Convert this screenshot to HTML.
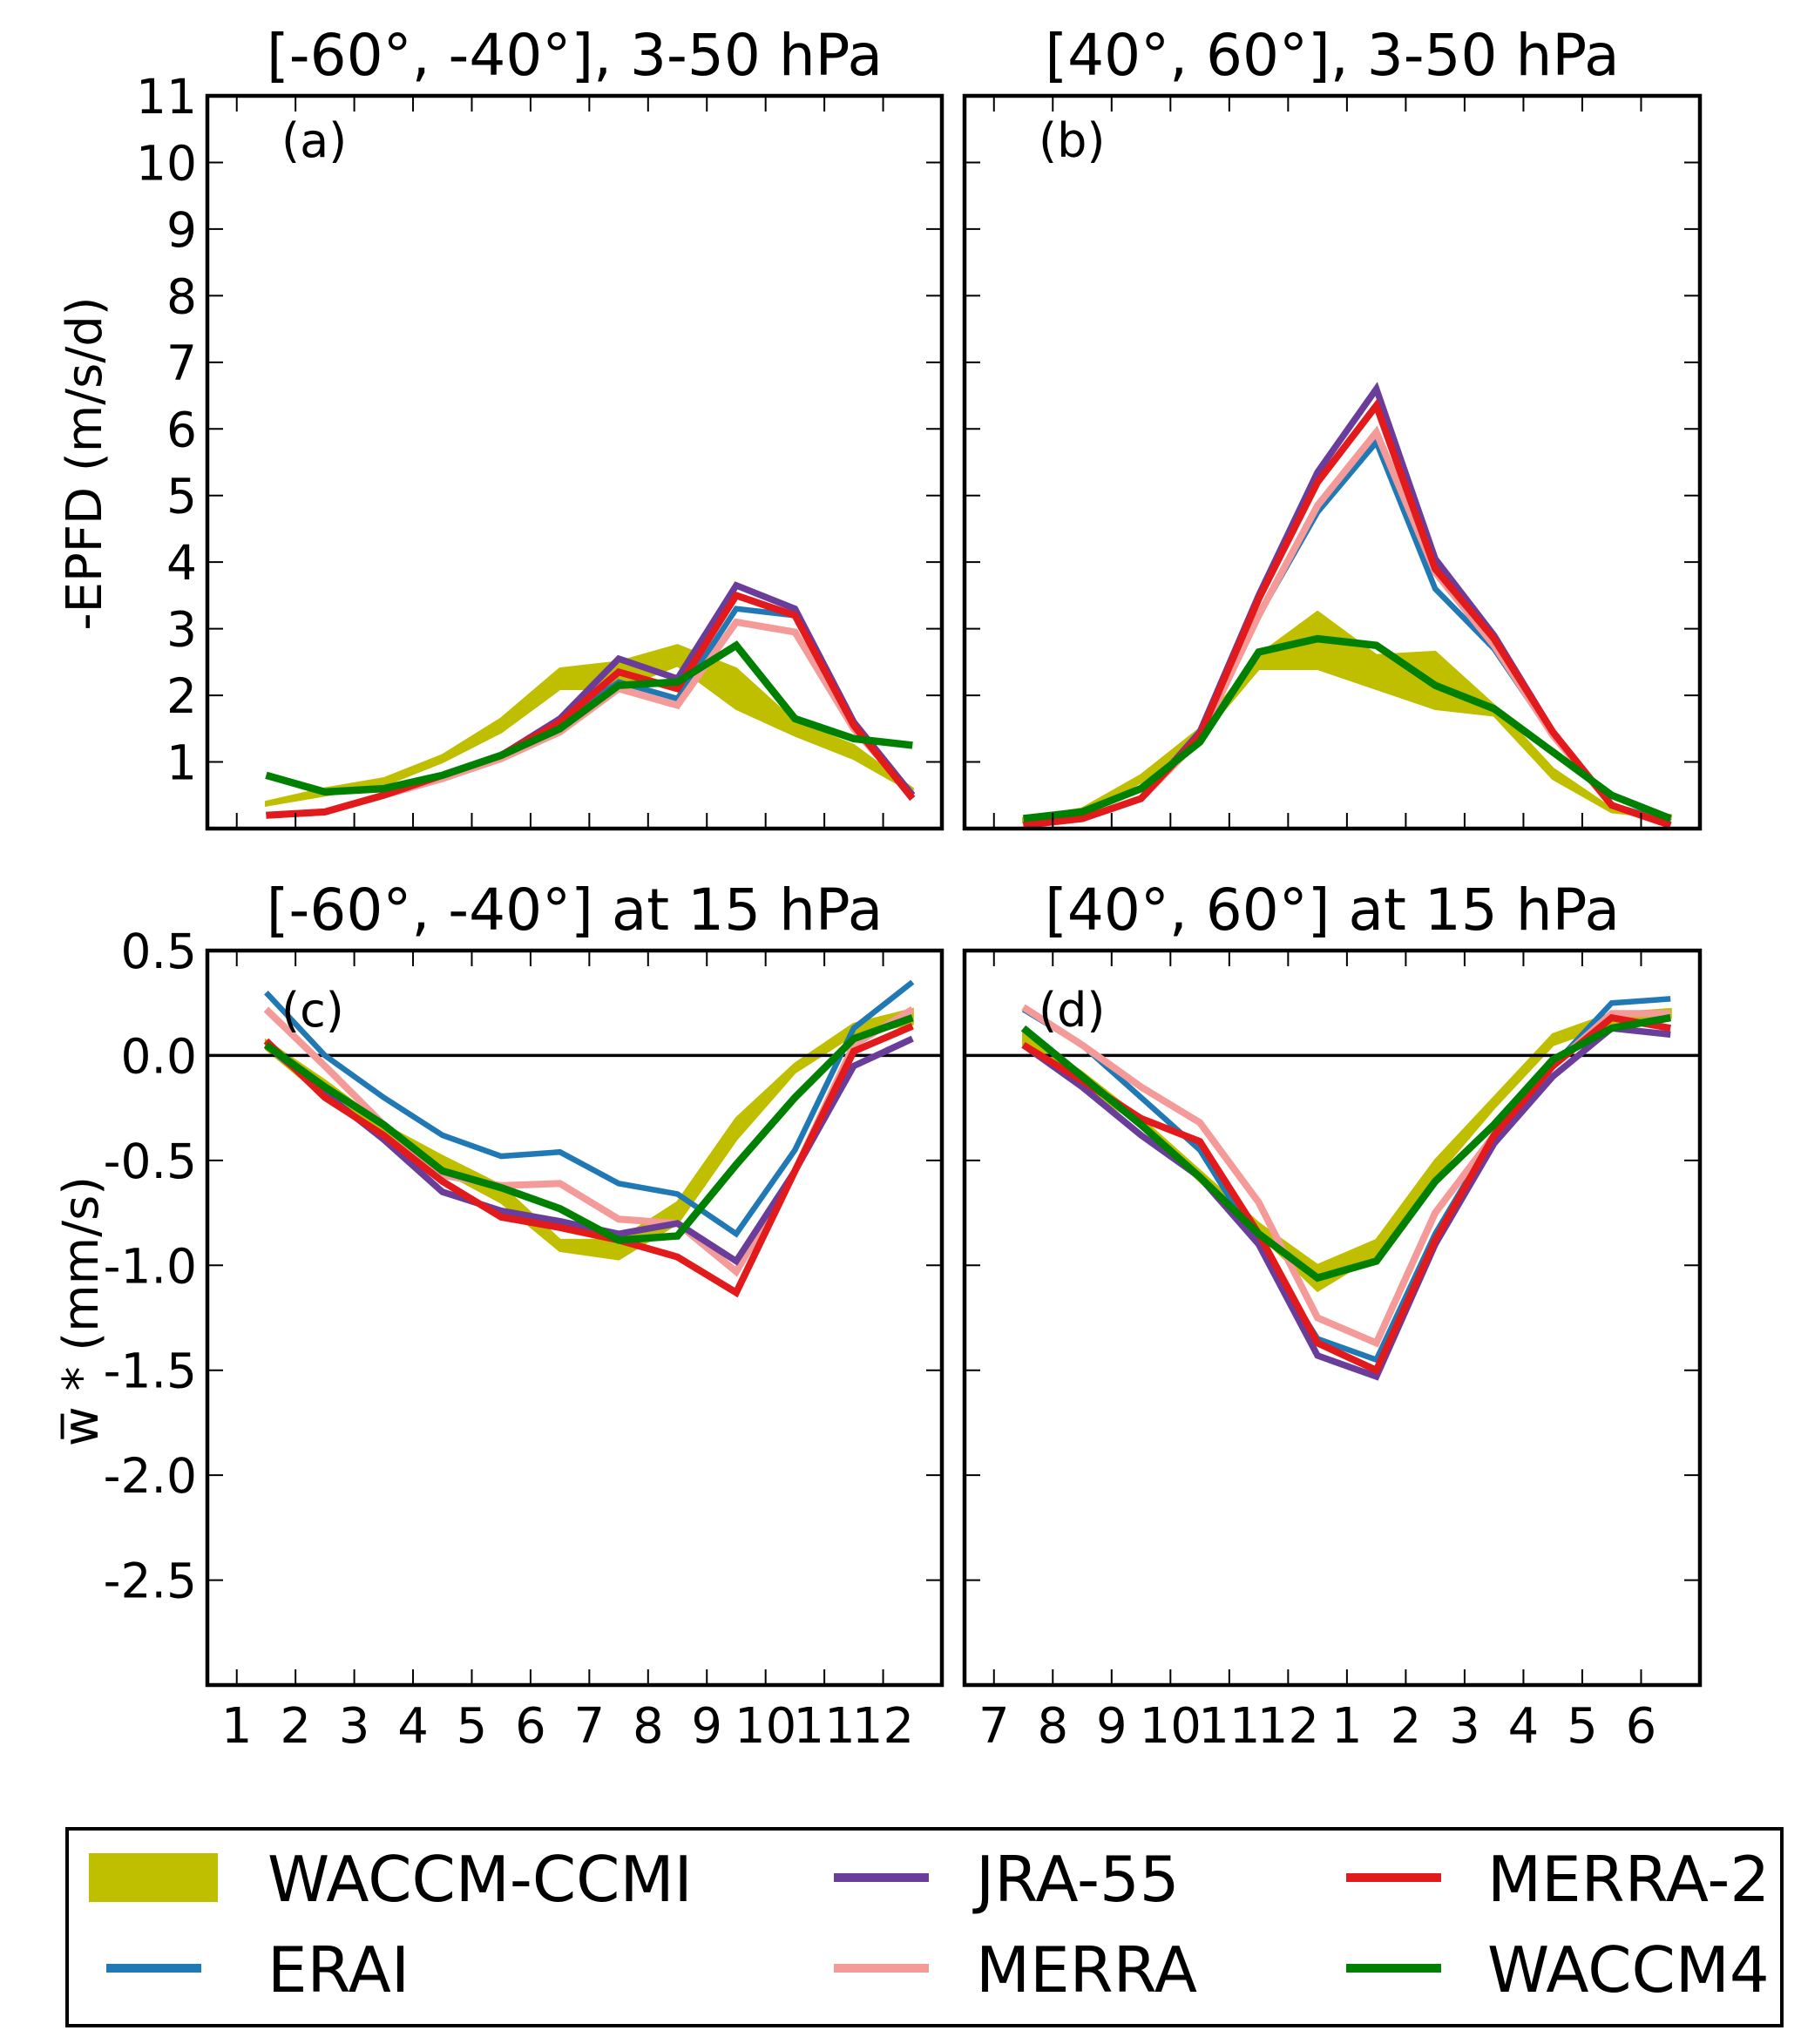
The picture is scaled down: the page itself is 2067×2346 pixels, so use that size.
<!DOCTYPE html>
<html><head><meta charset="utf-8"><style>
html,body{margin:0;padding:0;background:#fff}
svg{display:block}
text{font-family:"DejaVu Sans","Liberation Sans",sans-serif;fill:#000}
</style></head><body>
<svg id="fig" width="2067" height="2346" viewBox="0 0 2067 2346" xmlns="http://www.w3.org/2000/svg">
<g id="layer"></g>
</svg>
<script>
// ---- data ----
const monthsSH = [1,2,3,4,5,6,7,8,9,10,11,12];
const monthsNH = [7,8,9,10,11,12,1,2,3,4,5,6];
const epfdTicks = [1,2,3,4,5,6,7,8,9,10,11];
const wTicks = [0.5,0.0,-0.5,-1.0,-1.5,-2.0,-2.5];

const aERAI   = [0.2,0.25,0.5,0.75,1.1,1.6,2.2,1.95,3.3,3.2,1.6,0.5];
const aJRA    = [0.2,0.25,0.5,0.8,1.1,1.65,2.55,2.25,3.65,3.3,1.6,0.5];
const aMERRA  = [0.2,0.25,0.5,0.75,1.05,1.45,2.1,1.85,3.1,2.95,1.5,0.5];
const aMERRA2 = [0.2,0.25,0.5,0.8,1.1,1.6,2.35,2.1,3.5,3.2,1.55,0.45];
const aWACCM4 = [0.8,0.55,0.6,0.8,1.1,1.5,2.15,2.2,2.75,1.65,1.35,1.25];
const aCCMIlo = [0.35,0.5,0.65,1.0,1.45,2.1,2.1,2.45,1.8,1.4,1.05,0.55];
const aCCMIhi = [0.4,0.6,0.75,1.1,1.65,2.4,2.5,2.75,2.4,1.6,1.25,0.6];

const bERAI   = [0.05,0.15,0.45,1.4,3.2,4.75,5.8,3.6,2.7,1.4,0.35,0.1];
const bJRA    = [0.05,0.15,0.45,1.45,3.5,5.35,6.6,4.05,2.9,1.45,0.35,0.05];
const bMERRA  = [0.05,0.15,0.45,1.35,3.2,4.85,5.95,3.85,2.75,1.4,0.35,0.05];
const bMERRA2 = [0.05,0.15,0.45,1.4,3.45,5.2,6.35,3.9,2.85,1.45,0.35,0.05];
const bWACCM4 = [0.15,0.25,0.6,1.3,2.65,2.85,2.75,2.15,1.8,1.15,0.5,0.15];
const bCCMIlo = [0.1,0.2,0.7,1.35,2.4,2.4,2.1,1.8,1.7,0.75,0.25,0.15];
const bCCMIhi = [0.15,0.3,0.8,1.5,2.6,3.25,2.6,2.65,1.85,0.9,0.3,0.2];

const cERAI   = [0.3,0.0,-0.2,-0.38,-0.48,-0.46,-0.61,-0.66,-0.85,-0.45,0.13,0.35];
const cJRA    = [0.05,-0.18,-0.4,-0.65,-0.74,-0.79,-0.85,-0.8,-0.98,-0.55,-0.05,0.08];
const cMERRA  = [0.22,-0.05,-0.33,-0.57,-0.62,-0.61,-0.78,-0.8,-1.03,-0.55,0.05,0.22];
const cMERRA2 = [0.07,-0.2,-0.38,-0.6,-0.77,-0.82,-0.88,-0.96,-1.13,-0.55,0.02,0.14];
const cWACCM4 = [0.05,-0.15,-0.33,-0.55,-0.63,-0.73,-0.88,-0.86,-0.52,-0.2,0.08,0.18];
const cCCMIlo = [0.03,-0.2,-0.4,-0.55,-0.7,-0.93,-0.97,-0.8,-0.4,-0.08,0.1,0.15];
const cCCMIhi = [0.07,-0.12,-0.33,-0.48,-0.62,-0.88,-0.88,-0.7,-0.3,-0.04,0.15,0.22];

const dERAI   = [0.22,0.05,-0.2,-0.45,-0.9,-1.35,-1.45,-0.85,-0.38,-0.05,0.25,0.27];
const dJRA    = [0.05,-0.15,-0.38,-0.58,-0.9,-1.43,-1.53,-0.9,-0.42,-0.1,0.13,0.1];
const dMERRA  = [0.23,0.05,-0.15,-0.32,-0.7,-1.25,-1.37,-0.75,-0.38,-0.05,0.2,0.2];
const dMERRA2 = [0.05,-0.12,-0.3,-0.41,-0.85,-1.37,-1.5,-0.88,-0.38,-0.05,0.18,0.13];
const dWACCM4 = [0.13,-0.1,-0.33,-0.58,-0.85,-1.06,-0.98,-0.6,-0.33,-0.02,0.13,0.18];
const dCCMIlo = [0.05,-0.15,-0.33,-0.6,-0.85,-1.12,-0.95,-0.58,-0.25,0.05,0.15,0.18];
const dCCMIhi = [0.1,-0.08,-0.3,-0.55,-0.8,-1.0,-0.88,-0.5,-0.2,0.1,0.2,0.22];

const NS = "http://www.w3.org/2000/svg";
const root = document.getElementById('layer');
function mk(tag, attrs, parent, txt){
  const e = document.createElementNS(NS, tag);
  for (const k in attrs) e.setAttribute(k, attrs[k]);
  if (txt !== undefined) e.textContent = txt;
  (parent||root).appendChild(e);
  return e;
}
const COL = {ccmi:'#bfbf00', erai:'#2079b4', jra:'#6a3d9a', merra:'#f49a99', merra2:'#e31a1c', waccm:'#008000'};

function panel(key, L, R, T, B, ymin, ymax, yTicks, yFmt, labels, sets, title, tag, showY, zero){
  const g = mk('g', {});
  
  
  const xs = v => L + (v - 0.5) / 12.5 * (R - L);
  const ys = v => B - (v - ymin) / (ymax - ymin) * (B - T);
  const lo = sets.lo, hi = sets.hi;
  let pts = [];
  for (let i=0;i<12;i++) pts.push(xs(i+1.5)+','+ys(hi[i]));
  for (let i=11;i>=0;i--) pts.push(xs(i+1.5)+','+ys(lo[i]));
  const band = mk('polygon', {points: pts.join(' '), fill: COL.ccmi, stroke: COL.ccmi, 'stroke-width': 3}, g);
  
  
  if (zero){
    const z = mk('line', {x1:L, x2:R, y1:ys(0), y2:ys(0), stroke:'#000', 'stroke-width':3.5}, g);
    
    
  }
  const order = [['erai',6.5,'erai'],['merra',8,'merra'],['jra',7.5,'jra'],['merra2',8,'merra2'],['waccm',8.5,'waccm']];
  for (const [s, w, c] of order){
    const arr = sets[s];
    const p = arr.map((v,i) => xs(i+1.5)+','+ys(v)).join(' ');
    const pl = mk('polyline', {points:p, fill:'none', stroke:COL[c], 'stroke-width':w, 'stroke-linejoin':'miter'}, g);
    
    
  }
  const fr = mk('rect', {x:L, y:T, width:R-L, height:B-T, fill:'none', stroke:'#000', 'stroke-width':4.5}, g);
  
  
  for (let i=0;i<12;i++){
    const x = xs(i+1);
    mk('line', {x1:x, x2:x, y1:B, y2:B-18, stroke:'#000', 'stroke-width':2}, g);
    mk('line', {x1:x, x2:x, y1:T, y2:T+18, stroke:'#000', 'stroke-width':2}, g);
    if (labels){
      const t = mk('text', {x:x, y:B+66, 'font-size':56, 'text-anchor':'middle'}, g, labels[i]);
      
      
    }
  }
  for (const v of yTicks){
    const y = ys(v);
    mk('line', {x1:L, x2:L+18, y1:y, y2:y, stroke:'#000', 'stroke-width':2}, g);
    mk('line', {x1:R, x2:R-18, y1:y, y2:y, stroke:'#000', 'stroke-width':2}, g);
    if (showY){
      const t = mk('text', {x:L-12, y:y+20, 'font-size':55, 'text-anchor':'end'}, g, yFmt(v));
      
      
    }
  }
  const tt = mk('text', {x:(L+R)/2, y:T-24, 'font-size':66, 'text-anchor':'middle'}, g, title);
  
  
  const tg = mk('text', {x:L+85, y:(key==='a'||key==='b')?T+70:T+87, 'font-size':54}, g, tag);
  
  
}
const f0 = v => String(v);
const f1 = v => v.toFixed(1);
panel('a',238,1081,110,951,0,11,epfdTicks,f0,null,
  {lo:aCCMIlo,hi:aCCMIhi,erai:aERAI,jra:aJRA,merra:aMERRA,merra2:aMERRA2,waccm:aWACCM4},
  '[-60°, -40°], 3-50 hPa','(a)',true,false);
panel('b',1107,1951,110,951,0,11,epfdTicks,f0,null,
  {lo:bCCMIlo,hi:bCCMIhi,erai:bERAI,jra:bJRA,merra:bMERRA,merra2:bMERRA2,waccm:bWACCM4},
  '[40°, 60°], 3-50 hPa','(b)',false,false);
panel('c',238,1081,1091,1934,-3,0.5,wTicks,f1,monthsSH,
  {lo:cCCMIlo,hi:cCCMIhi,erai:cERAI,jra:cJRA,merra:cMERRA,merra2:cMERRA2,waccm:cWACCM4},
  '[-60°, -40°] at 15 hPa','(c)',true,true);
panel('d',1107,1951,1091,1934,-3,0.5,wTicks,f1,monthsNH,
  {lo:dCCMIlo,hi:dCCMIhi,erai:dERAI,jra:dJRA,merra:dMERRA,merra2:dMERRA2,waccm:dWACCM4},
  '[40°, 60°] at 15 hPa','(d)',false,true);

const ya = mk('text', {x:0, y:0, 'font-size':56, 'text-anchor':'middle', transform:'translate(116 532) rotate(-90)'}, root, '-EPFD (m/s/d)');


const yc = mk('text', {x:0, y:0, 'font-size':56, 'text-anchor':'middle', transform:'translate(112 1505) rotate(-90)'}, root, 'w\u0305 * (mm/s)');



const lg = mk('g', {});


mk('rect', {x:77, y:2099, width:1968, height:226, fill:'#fff', stroke:'#000', 'stroke-width':4}, lg);
const legendNames = ['WACCM-CCMI','ERAI','JRA-55','MERRA','MERRA-2','WACCM4'];
const legendKeys = ['ccmi','erai','jra','merra','merra2','waccm'];
const colX = [102, 937, 1525];
const textX = [307, 1120, 1707];
const rowY = [2155, 2259];
for (let i=0;i<6;i++){
  const c = Math.floor(i/2), r = i%2;
  const e = mk('g', {}, lg);
  
  
  if (legendKeys[i]==='ccmi'){
    mk('rect', {x:colX[c], y:rowY[r]-28, width:148, height:56, fill:COL.ccmi}, e);
  } else {
    mk('rect', {x:colX[c]+20, y:rowY[r]-5, width:109, height:10, fill:COL[legendKeys[i]]}, e);
  }
  mk('text', {x:textX[c], y:rowY[r]+27, 'font-size':72}, e, legendNames[i]);
}
</script>
</body></html>
